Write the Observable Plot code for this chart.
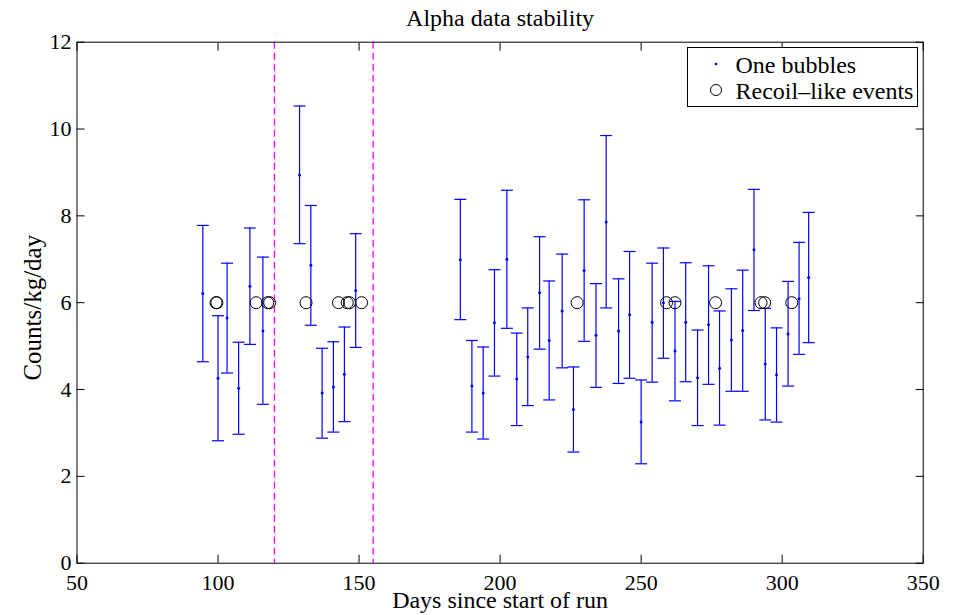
<!DOCTYPE html>
<html><head><meta charset="utf-8">
<script src="https://cdn.jsdelivr.net/npm/d3@7"></script>
<script src="https://cdn.jsdelivr.net/npm/@observablehq/plot@0.6"></script>
<style>
body{margin:0;background:#fff;}
#wrap{position:relative;width:960px;height:615px;font-family:"Liberation Serif","Times New Roman",serif;}
#legend{position:absolute;left:686.5px;top:47px;width:231px;height:60px;border:1px solid #000;background:#fff;box-sizing:border-box;}
.lg{position:absolute;left:48px;font-size:24px;line-height:24px;white-space:nowrap;color:#000;}
.mk{position:absolute;left:20px;}
</style>
</head><body>
<div id="wrap"><div id="chart"></div>
<div id="legend">
  <svg class="mk" style="top:8px" width="16" height="16"><circle cx="8" cy="8" r="1.3" fill="#0000ff"/></svg>
  <span class="lg" style="top:5px">One bubbles</span>
  <svg class="mk" style="top:34px" width="16" height="16"><circle cx="8" cy="8" r="5.5" fill="none" stroke="#000" stroke-width="1"/></svg>
  <span class="lg" style="top:31px">Recoil&#8211;like events</span>
</div>
</div>
<script>
const titleText = ["Alpha data stability"];
const xLabel = ["Days since start of run"];
const yLabel = ["Counts/kg/day"];
const xTicks = [50, 100, 150, 200, 250, 300, 350];
const yTicks = [0, 2, 4, 6, 8, 10, 12];
const cutDays = [120, 155];

const days  = [94.6,100.0,103.2,107.3,111.3,115.9,128.9,132.9,136.9,140.9,144.8,148.8,
  185.9,190.0,194.0,198.0,202.4,205.9,209.8,214.0,217.4,222.0,226.0,229.8,234.0,237.6,242.0,245.9,
  250.0,253.9,257.9,262.0,265.8,270.0,273.9,277.8,282.0,286.0,290.0,294.0,298.0,302.1,306.0,309.4];
const rate  = [6.21,4.26,5.65,4.03,6.38,5.35,8.94,6.86,3.92,4.06,4.35,6.28,
  6.99,4.08,3.92,5.54,7.00,4.24,4.75,6.23,5.13,5.81,3.54,6.74,5.25,7.86,5.35,5.72,
  3.25,5.55,6.00,4.89,5.55,4.27,5.49,4.49,5.14,5.36,7.22,4.59,4.34,5.28,6.09,6.58];
const upper = [7.78,5.70,6.91,5.09,7.72,7.05,10.53,8.24,4.95,5.10,5.44,7.59,
  8.38,5.13,4.98,6.76,8.59,5.30,5.88,7.52,6.50,7.12,4.52,8.37,6.44,9.85,6.55,7.18,
  4.22,6.91,7.26,6.03,6.92,5.37,6.85,5.81,6.32,6.75,8.61,5.87,5.42,6.49,7.39,8.08];
const lower = [4.64,2.82,4.38,2.97,5.04,3.66,7.36,5.48,2.88,3.02,3.26,4.97,
  5.61,3.02,2.86,4.31,5.41,3.17,3.63,4.93,3.76,4.50,2.56,5.11,4.05,5.88,4.14,4.26,
  2.29,4.17,4.72,3.74,4.18,3.17,4.12,3.18,3.96,3.96,5.82,3.30,3.25,4.08,4.81,5.08];

const recoilDays = [99.3,99.6,113.5,117.6,118.3,131.2,142.7,145.8,146.6,150.9,227.3,259.0,262.0,276.4,292.5,293.8,303.4];
const recoilRate = [6,6,6,6,6,6,6,6,6,6,6,6,6,6,6,6,6];

const bubbles = days.map((d, i) => ({day: d, rate: rate[i], upper: upper[i], lower: lower[i]}));
const recoil = recoilDays.map((d, i) => ({day: d, rate: recoilRate[i]}));

const cap = {draw(ctx, size) { const w = Math.sqrt(size / Math.PI); ctx.moveTo(-w, 0); ctx.lineTo(w, 0); }};
const blue = "#0000ff";

const plot = Plot.plot({
  width: 960, height: 615,
  marginLeft: 76.5, marginRight: 37.3, marginTop: 41.7, marginBottom: 52.3,
  x: {domain: [50, 350], label: null},
  y: {domain: [0, 12], label: null},
  style: {fontFamily: "Liberation Serif", fontSize: "22px", color: "#000", background: "#fff", overflow: "visible"},
  marks: [
    Plot.ruleX(cutDays, {stroke: "#ff00ff", strokeDasharray: "7,4", strokeWidth: 1.3}),
    Plot.ruleX(bubbles, {x: "day", y1: "lower", y2: "upper", stroke: blue, strokeWidth: 1.2}),
    Plot.dot(bubbles, {x: "day", y: "upper", symbol: cap, r: 6, stroke: blue, strokeWidth: 1.2}),
    Plot.dot(bubbles, {x: "day", y: "lower", symbol: cap, r: 6, stroke: blue, strokeWidth: 1.2}),
    Plot.dot(bubbles, {x: "day", y: "rate", r: 1.5, fill: blue}),
    Plot.dot(recoil, {x: "day", y: "rate", r: 6, stroke: "#000", strokeWidth: 1}),
    Plot.frame({stroke: "#000"}),
    Plot.axisX({ticks: xTicks, tickSize: -8, tickPadding: 19, fontSize: 22, label: null}),
    Plot.axisX({anchor: "top", ticks: xTicks, tickSize: -8, tickFormat: () => "", label: null}),
    Plot.axisY({ticks: yTicks, tickSize: -8, tickPadding: 13.5, fontSize: 22, label: null}),
    Plot.axisY({anchor: "right", ticks: yTicks, tickSize: -8, tickFormat: () => "", label: null}),
    Plot.text(titleText, {frameAnchor: "top", lineAnchor: "middle", dy: -24, fontSize: 24}),
    Plot.text(xLabel, {frameAnchor: "bottom", lineAnchor: "middle", dy: 37, fontSize: 24}),
    Plot.text(yLabel, {frameAnchor: "left", textAnchor: "middle", lineAnchor: "middle", dx: -44.5, dy: 5, rotate: -90, fontSize: 25})
  ]
});
document.getElementById("chart").appendChild(plot);
</script>
</body></html>
